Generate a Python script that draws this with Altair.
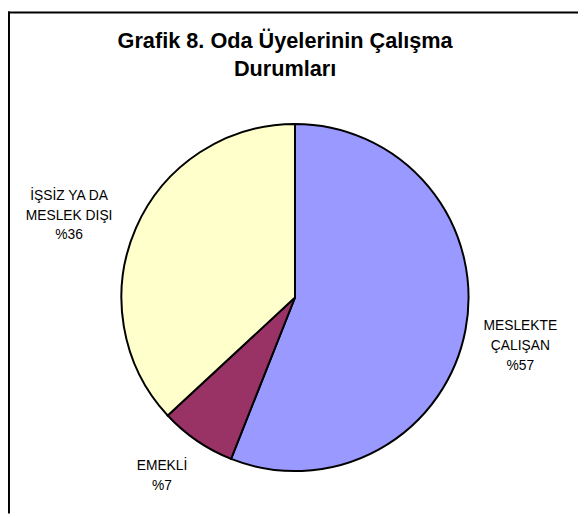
import altair as alt
import pandas as pd

# ---- data ----
categories = ["MESLEKTE ÇALIŞAN", "EMEKLİ", "İŞSİZ YA DA MESLEK DIŞI"]
label_texts = ["MESLEKTE\nÇALIŞAN\n%57", "EMEKLİ\n%7", "İŞSİZ YA DA\nMESLEK DIŞI\n%36"]
values = [56.0, 7.1, 36.9]
slice_order = [0, 1, 2]
colors = ["#9999FF", "#993366", "#FFFFCC"]
title_lines = ["Grafik 8. Oda Üyelerinin Çalışma", "Durumları"]

df = pd.DataFrame({
    "category": categories,
    "label": label_texts,
    "value": values,
    "order": slice_order,
})

W, H = 578, 509
CX, CY = 291, 290
R = 176
FONT = "Liberation Sans"

base = alt.Chart(df).encode(
    theta=alt.Theta("value:Q", stack=True),
    order=alt.Order("order:Q"),
)

pie = base.mark_arc(radius=R, stroke="black", strokeWidth=2).encode(
    x=alt.value(CX),
    y=alt.value(CY),
    color=alt.Color("category:N", scale=alt.Scale(domain=categories, range=colors), legend=None),
)


def label_layer(cat, radius, dx, dy):
    return base.mark_text(
        radius=radius, dx=dx, dy=dy, font=FONT, fontSize=14, lineHeight=20,
        lineBreak="\n", color="black", align="center", baseline="middle",
    ).encode(
        x=alt.value(CX),
        y=alt.value(CY),
        text=alt.condition(alt.datum.category == cat, "label:N", alt.value("")),
    )


lab_blue = label_layer(categories[0], 225, 7.5, -13)
lab_purple = label_layer(categories[1], 222, -9.5, -12)
lab_yellow = label_layer(categories[2], 245, -4.5, -5)

frame_df = pd.DataFrame({"a": [0]})
left_line = alt.Chart(frame_df).mark_rule(color="black", strokeWidth=2).encode(
    x=alt.value(1), y=alt.value(0), y2=alt.value(H)
)
top_line = alt.Chart(frame_df).mark_rule(color="black", strokeWidth=2).encode(
    x=alt.value(0), x2=alt.value(W), y=alt.value(1)
)

chart = alt.layer(pie, lab_blue, lab_purple, lab_yellow, left_line, top_line).properties(
    width=W,
    height=H,
    padding=0,
    autosize=alt.AutoSizeParams(type="none"),
    background="white",
    title=alt.TitleParams(
        text=title_lines, font=FONT, fontSize=22, fontWeight="bold", color="black",
        anchor="middle", baseline="top", offset=0, dy=71, dx=-8, lineHeight=28,
    ),
).configure_view(stroke=None)

chart.save("out.html", embed_options={"renderer": "svg", "actions": False})
